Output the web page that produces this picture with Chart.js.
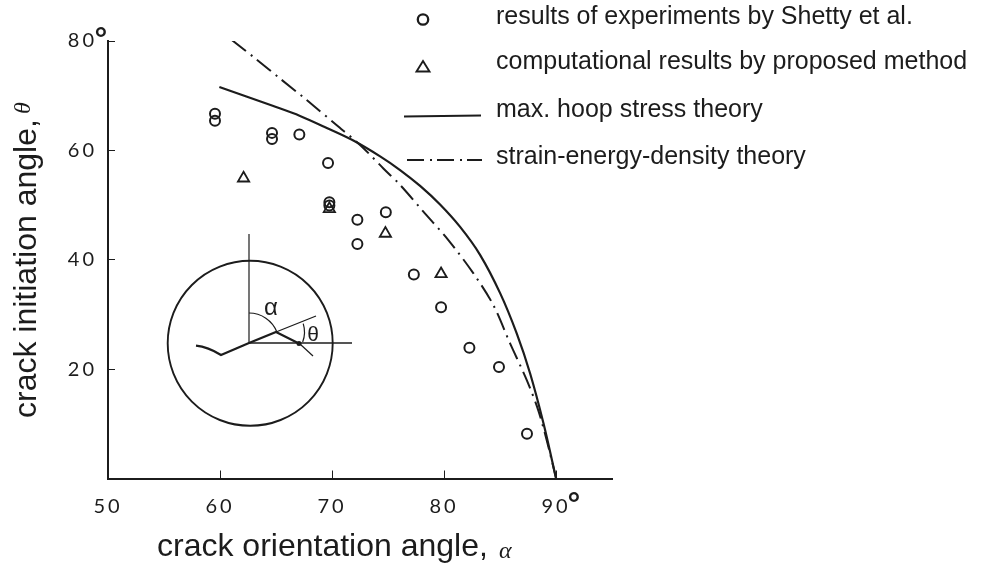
<!DOCTYPE html>
<html>
<head>
<meta charset="utf-8">
<style>
  html, body { margin: 0; padding: 0; background: #fff; }
  canvas { display: block; }
</style>
<script src="https://cdn.jsdelivr.net/npm/chart.js@4/dist/chart.umd.min.js"></script>
</head>
<body>
<canvas id="chart" width="983" height="568"></canvas>
<script>
const xTicks = [50, 60, 70, 80, 90];
const yTicks = [20, 40, 60, 80];

// experiments (circles)
const expAlpha = [59.55, 59.55, 64.64, 64.64, 67.08, 69.64, 69.76, 69.76, 72.26, 72.26, 74.8, 77.3, 79.73, 82.26, 84.9, 87.4];
const expTheta = [66.7, 65.4, 63.2, 62.1, 62.9, 57.7, 50.5, 49.9, 47.3, 42.9, 48.7, 37.3, 31.3, 23.9, 20.4, 8.2];

// proposed method (triangles)
const compAlpha = [62.1, 69.76, 74.76, 79.73];
const compTheta = [54.9, 49.3, 44.8, 37.4];

const hoopAlpha = [59.94, 64.76, 67.14, 69.53, 71.9, 74.29, 76.07, 77.86, 79.64, 81.43, 83.21, 85.0, 86.49, 87.68, 88.87, 90];
const hoopTheta = [71.6, 68.1, 66.3, 64.1, 61.8, 58.9, 56.4, 53.5, 50.1, 46.0, 40.9, 33.9, 26.5, 19.2, 10.1, 0];

const sedAlpha = [61.04, 63.28, 65.5, 67.74, 70.42, 72.5, 74.58, 76.07, 78.15, 80.38, 82.62, 84.4, 85.89, 87.38, 88.4, 89.16, 90];
const sedTheta = [80.2, 76.6, 72.9, 69.2, 64.6, 61.0, 56.7, 53.7, 48.8, 43.6, 37.5, 31.7, 24.7, 18.0, 12.5, 7.0, 0];

const legendLabels = [
    "results of experiments by Shetty et al.",
    "computational results by proposed method",
    "max. hoop stress theory",
    "strain-energy-density theory"
];

const ink = "#1c1c1c";
const sansFont = '"Liberation Sans", Arial, sans-serif';

function toPoints(xs, ys) {
    return xs.map((x, i) => ({ x: x, y: ys[i] }));
}

function line(ctx, x1, y1, x2, y2, width) {
    ctx.lineWidth = width;
    ctx.beginPath();
    ctx.moveTo(x1, y1);
    ctx.lineTo(x2, y2);
    ctx.stroke();
}

function drawInset(ctx) {
    ctx.strokeStyle = ink;
    ctx.fillStyle = ink;

    ctx.lineWidth = 1.9;
    ctx.beginPath();
    ctx.arc(250.2, 343.3, 82.5, 0, Math.PI * 2);
    ctx.stroke();

    line(ctx, 249, 234, 249, 343, 1.2);
    line(ctx, 249, 343, 352, 343, 1.4);
    line(ctx, 276, 332, 316, 316, 1.2);
    line(ctx, 300, 344, 313, 356, 1.2);

    // crack
    ctx.lineWidth = 2.2;
    ctx.beginPath();
    ctx.moveTo(196, 345.7);
    ctx.quadraticCurveTo(208, 347, 221, 355);
    ctx.lineTo(249, 343);
    ctx.lineTo(276, 332);
    ctx.lineTo(300, 344);
    ctx.stroke();

    ctx.beginPath();
    ctx.arc(299, 343.5, 2.5, 0, Math.PI * 2);
    ctx.fill();

    // angle arcs
    ctx.lineWidth = 1.2;
    ctx.beginPath();
    ctx.arc(249, 343, 30, -Math.PI / 2, -0.38);
    ctx.stroke();
    ctx.beginPath();
    ctx.arc(276, 332, 28.5, -0.3, 0.36);
    ctx.stroke();

    ctx.font = "24px " + sansFont;
    ctx.textAlign = "center";
    ctx.textBaseline = "middle";
    ctx.fillText("α", 271, 308);
    ctx.font = "21px " + sansFont;
    ctx.fillText("θ", 313, 335);
}

function drawLegend(ctx) {
    ctx.strokeStyle = ink;
    ctx.fillStyle = ink;
    ctx.font = "25px " + sansFont;
    ctx.textAlign = "left";
    ctx.textBaseline = "alphabetic";
    const baselines = [24, 68.5, 117, 163.5];
    legendLabels.forEach((label, i) => {
        ctx.fillText(label, 496, baselines[i]);
    });

    ctx.lineWidth = 2.3;
    ctx.beginPath();
    ctx.arc(423, 19.5, 5.2, 0, Math.PI * 2);
    ctx.stroke();

    ctx.lineWidth = 1.9;
    ctx.beginPath();
    ctx.moveTo(423, 61);
    ctx.lineTo(429.5, 71.5);
    ctx.lineTo(416.5, 71.5);
    ctx.closePath();
    ctx.stroke();

    line(ctx, 404, 116.5, 481, 115.5, 1.8);
    ctx.setLineDash([17, 6, 2, 5]);
    line(ctx, 407, 160, 482, 160, 1.8);
    ctx.setLineDash([]);
}

function drawTitles(ctx) {
    ctx.fillStyle = ink;
    ctx.textBaseline = "middle";

    ctx.font = "32px " + sansFont;
    ctx.textAlign = "left";
    ctx.fillText("crack orientation angle,", 157, 547);
    ctx.font = "italic 24px " + '"Liberation Serif", serif';
    ctx.fillText("α", 499, 552);

    ctx.save();
    ctx.translate(27, 418);
    ctx.rotate(-Math.PI / 2);
    ctx.font = "32px " + sansFont;
    ctx.fillText("crack initiation angle,", 0, 0);
    ctx.font = "italic 24px " + '"Liberation Serif", serif';
    ctx.fillText("θ", 304, -3);
    ctx.restore();
}

function drawDegrees(ctx) {
    ctx.fillStyle = ink;
    ctx.font = "bold 32px " + sansFont;
    ctx.textAlign = "center";
    ctx.textBaseline = "alphabetic";
    ctx.fillText("°", 101, 49);
    ctx.fillText("°", 574, 514);
}

const annotations = {
    id: "annotations",
    beforeDraw(chart) {
        chart.ctx.letterSpacing = "3px";
    },
    afterDraw(chart) {
        const ctx = chart.ctx;
        ctx.save();
        ctx.letterSpacing = "0px";
        drawInset(ctx);
        drawLegend(ctx);
        drawTitles(ctx);
        drawDegrees(ctx);
        ctx.restore();
    }
};

new Chart(document.getElementById("chart"), {
    type: "scatter",
    data: {
        datasets: [
            {
                label: legendLabels[2],
                data: toPoints(hoopAlpha, hoopTheta),
                showLine: true,
                borderColor: ink,
                borderWidth: 2.2,
                tension: 0.3,
                pointRadius: 0
            },
            {
                label: legendLabels[3],
                data: toPoints(sedAlpha, sedTheta),
                showLine: true,
                borderColor: ink,
                borderWidth: 2,
                borderDash: [18, 6, 2, 6],
                tension: 0.3,
                pointRadius: 0
            },
            {
                label: legendLabels[0],
                data: toPoints(expAlpha, expTheta),
                pointStyle: "circle",
                pointRadius: 5,
                pointBorderWidth: 2,
                pointBorderColor: ink,
                pointBackgroundColor: "transparent"
            },
            {
                label: legendLabels[1],
                data: toPoints(compAlpha, compTheta),
                pointStyle: "triangle",
                pointRadius: 6.5,
                pointBorderWidth: 1.8,
                pointBorderColor: ink,
                pointBackgroundColor: "transparent"
            }
        ]
    },
    options: {
        responsive: false,
        animation: false,
        layout: { padding: { left: 0, right: 370.3, top: 41, bottom: 0 } },
        plugins: {
            legend: { display: false },
            tooltip: { enabled: false }
        },
        scales: {
            x: {
                type: "linear",
                min: 50,
                max: 95.05,
                afterBuildTicks: scale => { scale.ticks = xTicks.map(v => ({ value: v })); },
                afterFit: scale => { scale.height = 89.5; },
                border: { color: ink, width: 2 },
                grid: { drawOnChartArea: false, tickLength: -8, tickColor: ink, tickWidth: 1 },
                ticks: {
                    color: ink,
                    padding: 24,
                    maxRotation: 0,
                    autoSkip: false,
                    font: { family: "Lato", size: 20 }
                }
            },
            y: {
                type: "linear",
                min: 0,
                max: 80,
                afterBuildTicks: scale => { scale.ticks = yTicks.map(v => ({ value: v })); },
                afterFit: scale => { scale.width = 108; },
                border: { color: ink, width: 2 },
                grid: { drawOnChartArea: false, tickLength: -7, tickColor: ink, tickWidth: 1 },
                ticks: {
                    color: ink,
                    padding: 18,
                    autoSkip: false,
                    font: { family: "Lato", size: 20 }
                }
            }
        }
    },
    plugins: [annotations]
});
</script>
</body>
</html>
